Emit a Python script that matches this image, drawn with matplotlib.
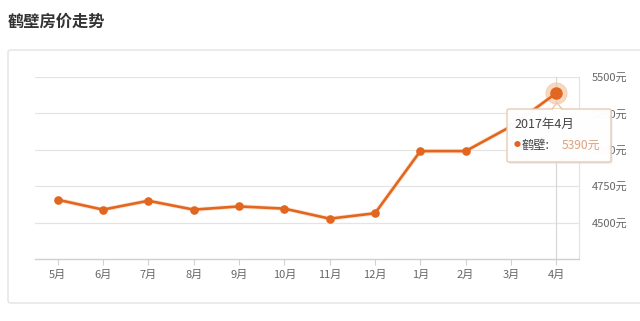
import matplotlib
matplotlib.use("Agg")
import matplotlib.pyplot as plt
from matplotlib.patches import FancyBboxPatch, Rectangle
import matplotlib.patheffects as pe

plt.rcParams['font.family'] = ['Noto Sans CJK SC', 'DejaVu Sans']

title = "鹤壁房价走势"
series_name = "鹤壁"
months = ["5月", "6月", "7月", "8月", "9月", "10月", "11月", "12月", "1月", "2月", "3月", "4月"]
prices = [4657, 4589, 4650, 4589, 4611, 4596, 4527, 4564, 4991, 4991, 5161, 5390]
y_ticks = [4500, 4750, 5000, 5250, 5500]
tooltip_title = "2017年4月"
highlight_index = 11

W, H = 640, 321
fig = plt.figure(figsize=(W / 100, H / 100), dpi=100)
fig.patch.set_facecolor("white")

# outer panel
panel = FancyBboxPatch((8 / W, (H - 303) / H), (660 - 8) / W, (303 - 50) / H,
                       boxstyle="round,pad=0,rounding_size=0.006",
                       transform=fig.transFigure, facecolor="white",
                       edgecolor="#e3e3e3", linewidth=1.0, zorder=-5)
fig.patches.append(panel)

fig.text(8 / W, 1 - 22 / H, title, fontsize=11.7, fontweight="bold",
         color="#333333", va="center", ha="left")

x0, x1, yt, yb = 35, 579, 77, 259
ax = fig.add_axes([x0 / W, (H - yb) / H, (x1 - x0) / W, (yb - yt) / H])
ax.set_zorder(1)
ax.set_facecolor("none")
xs = list(range(len(months)))
ax.set_xlim(-0.5, len(months) - 0.5)
ax.set_ylim(4250, 5500)

for v in y_ticks:
    ax.axhline(v, color="#e4e4e4", lw=0.9, zorder=1)

for s in ["top", "left"]:
    ax.spines[s].set_visible(False)
ax.spines["bottom"].set_color("#d0d0d0")
ax.spines["right"].set_color("#e4e4e4")
ax.spines["bottom"].set_linewidth(1.0)
ax.spines["right"].set_linewidth(0.9)

ax.set_xticks(xs)
ax.set_xticklabels(months, fontsize=8, color="#666666")
ax.tick_params(axis="x", length=4, color="#d0d0d0", pad=4)

ax.yaxis.tick_right()
ax.set_yticks(y_ticks)
ax.set_yticklabels([f"{v}元" for v in y_ticks], fontsize=8, color="#666666")
ax.tick_params(axis="y", length=0, pad=9)

# crosshair
ax.axvline(highlight_index, color="#d8d8d8", lw=0.9, zorder=2)

color = "#e2661f"
ax.plot(xs, prices, color=color, lw=1.9, zorder=4, solid_capstyle="round",
        path_effects=[pe.Stroke(linewidth=3.2, foreground="#f9d4b8", alpha=0.6), pe.Normal()])
ax.plot(xs, prices, "o", color=color, markersize=5.2, zorder=5)
ax.plot([highlight_index], [prices[highlight_index]], "o", color="#f6c9a8",
        markersize=15, alpha=0.7, zorder=3)
ax.plot([highlight_index], [prices[highlight_index]], "o", color=color,
        markersize=8, zorder=6)

# tooltip shadow + box
bx0, by0, bx1, by1 = 507, 109, 611, 162
shadow = FancyBboxPatch(((bx0 + 1.5) / W, 1 - (by1 + 2) / H), (bx1 - bx0) / W, (by1 - by0) / H,
                        boxstyle="round,pad=0,rounding_size=0.004",
                        transform=fig.transFigure, facecolor="#dddddd",
                        edgecolor="none", zorder=9, alpha=0.5)
fig.patches.append(shadow)
tip = FancyBboxPatch((bx0 / W, 1 - by1 / H), (bx1 - bx0) / W, (by1 - by0) / H,
                     boxstyle="round,pad=0,rounding_size=0.004",
                     transform=fig.transFigure, facecolor="white",
                     edgecolor="#e8c8b0", linewidth=1.0, zorder=10, alpha=0.96)
fig.patches.append(tip)
# pointer
fig.patches.append(plt.Polygon([((552) / W, 1 - by0 / H), (557 / W, 1 - 103 / H), (562 / W, 1 - by0 / H)],
                               closed=True, transform=fig.transFigure, facecolor="white",
                               edgecolor="#e8c8b0", lw=1.0, zorder=10))
fig.patches.append(Rectangle((552.8 / W, 1 - (by0 + 1.5) / H), 8.5 / W, 2 / H,
                             transform=fig.transFigure, facecolor="white",
                             edgecolor="none", zorder=11))
fig.text(514 / W, 1 - 124 / H, tooltip_title, fontsize=9, color="#444444",
         va="center", ha="left", zorder=12)
fig.text(517 / W, 1 - 145 / H, "●", fontsize=5, color=color,
         va="center", ha="center", zorder=12)
fig.text(522 / W, 1 - 145 / H, series_name + ":", fontsize=8.8, color="#444444",
         va="center", ha="left", zorder=12)
fig.text(562 / W, 1 - 145 / H, f"{prices[highlight_index]}元", fontsize=8.7,
         color="#e0a27a", va="center", ha="left", zorder=12)

fig.savefig("out.png", dpi=100)
